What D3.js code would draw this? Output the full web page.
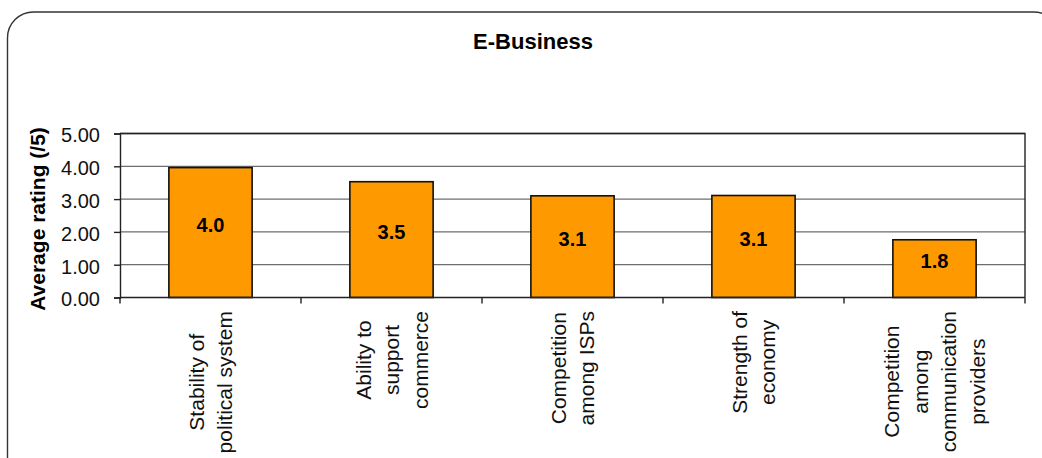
<!DOCTYPE html>
<html>
<head>
<meta charset="utf-8">
<script src="https://cdn.jsdelivr.net/npm/d3@7"></script>
<style>
  html, body { margin: 0; padding: 0; background: #fff; }
  svg { display: block; font-family: "Liberation Sans", Arial, sans-serif; }
</style>
</head>
<body>
<svg id="chart" width="1042" height="458"></svg>
<script>
// Survey factors and their average rating out of 5
const categories = [
  ["Stability of", "political system"],
  ["Ability to", "support", "commerce"],
  ["Competition", "among ISPs"],
  ["Strength of", "economy"],
  ["Competition", "among", "communication", "providers"]
];
const ratings = [3.96, 3.53, 3.10, 3.11, 1.76];
const yTicks = [0, 1, 2, 3, 4, 5];
const chartTitle = "E-Business";
const yAxisTitle = "Average rating (/5)";

const svg = d3.select("#chart");
const margin = { left: 120, right: 1025, top: 133.5, bottom: 297.5 };

// Outer chart frame with rounded corners (runs off the right and bottom edges)
svg.append("rect")
  .attr("x", 7.5).attr("y", 12)
  .attr("width", 1052).attr("height", 480)
  .attr("rx", 26).attr("ry", 26)
  .attr("fill", "#fff")
  .attr("stroke", "#333").attr("stroke-width", 1.4);

svg.append("text")
  .attr("x", 533).attr("y", 48.5)
  .attr("text-anchor", "middle")
  .attr("font-size", 22).attr("font-weight", "bold")
  .text(chartTitle);

const x = d3.scaleBand()
  .domain(d3.range(categories.length))
  .range([margin.left, margin.right])
  .padding(0);

const y = d3.scaleLinear()
  .domain([0, 5])
  .range([margin.bottom, margin.top]);

// Horizontal gridlines
svg.append("g")
  .selectAll("line")
  .data(yTicks.filter(t => t > 0))
  .join("line")
  .attr("x1", margin.left).attr("x2", margin.right)
  .attr("y1", d => y(d)).attr("y2", d => y(d))
  .attr("stroke", "#6e6e6e").attr("stroke-width", 1.3);

// Plot-area frame: top and right edges
svg.append("path")
  .attr("d", `M${margin.left},${y(5)}H${margin.right}V${margin.bottom}`)
  .attr("fill", "none")
  .attr("stroke", "#222").attr("stroke-width", 1.4);

// Bars
const barFrac = 0.46;
const barW = x.bandwidth() * barFrac;
svg.append("g")
  .selectAll("rect")
  .data(ratings)
  .join("rect")
  .attr("x", (d, i) => x(i) + (x.bandwidth() - barW) / 2)
  .attr("y", d => y(d))
  .attr("width", barW)
  .attr("height", d => y(0) - y(d))
  .attr("fill", "#ff9900")
  .attr("stroke", "#111").attr("stroke-width", 1.6);

// Value labels inside bars
const fmt = d3.format(".1f");
svg.append("g")
  .selectAll("text")
  .data(ratings)
  .join("text")
  .attr("x", (d, i) => x(i) + x.bandwidth() / 2)
  .attr("y", d => (y(d) + y(0)) / 2 - 8)
  .attr("dy", "0.36em")
  .attr("text-anchor", "middle")
  .attr("font-size", 20).attr("font-weight", "bold")
  .attr("fill", "#000")
  .text(d => fmt(d));

// Y axis
const yAxis = d3.axisLeft(y)
  .tickValues(yTicks)
  .tickFormat(d3.format(".2f"))
  .tickSize(6)
  .tickPadding(14);
const gy = svg.append("g")
  .attr("transform", `translate(${margin.left},0)`)
  .call(yAxis);
gy.select(".domain").attr("stroke", "#222").attr("stroke-width", 1.4);
gy.selectAll(".tick line").attr("stroke", "#222").attr("stroke-width", 1.4);
gy.selectAll(".tick text")
  .attr("font-size", 20)
  .attr("font-family", "Liberation Sans, Arial, sans-serif")
  .attr("fill", "#111")
  .attr("dy", "0.42em");

// X axis: baseline with ticks at category boundaries
const boundaries = d3.range(categories.length + 1)
  .map(i => margin.left + i * x.step());
svg.append("line")
  .attr("x1", margin.left).attr("x2", margin.right)
  .attr("y1", y(0)).attr("y2", y(0))
  .attr("stroke", "#222").attr("stroke-width", 1.6);
svg.append("g")
  .selectAll("line")
  .data(boundaries)
  .join("line")
  .attr("x1", d => d).attr("x2", d => d)
  .attr("y1", y(0)).attr("y2", y(0) + 6)
  .attr("stroke", "#222").attr("stroke-width", 1.4);

// Rotated, multi-line category labels
const lineH = 28.5;
const labelTop = 311;
categories.forEach((lines, i) => {
  const cx = x(i) + x.bandwidth() / 2;
  const g = svg.append("g");
  const texts = g.selectAll("text")
    .data(lines)
    .join("text")
    .attr("text-anchor", "middle")
    .attr("font-size", 21)
    .attr("fill", "#111")
    .text(d => d);
  const maxLen = d3.max(texts.nodes(), n => n.getComputedTextLength());
  const cy = labelTop + maxLen / 2;
  texts.attr("transform", (d, j) => {
    const off = (j - (lines.length - 1) / 2) * lineH;
    return `translate(${cx + off},${cy}) rotate(-90)`;
  })
  .attr("dy", "0.36em");
});

// Y axis title
svg.append("text")
  .attr("transform", `translate(37,219) rotate(-90)`)
  .attr("text-anchor", "middle")
  .attr("dy", "0.36em")
  .attr("font-size", 21).attr("font-weight", "bold")
  .text(yAxisTitle);
</script>
</body>
</html>
